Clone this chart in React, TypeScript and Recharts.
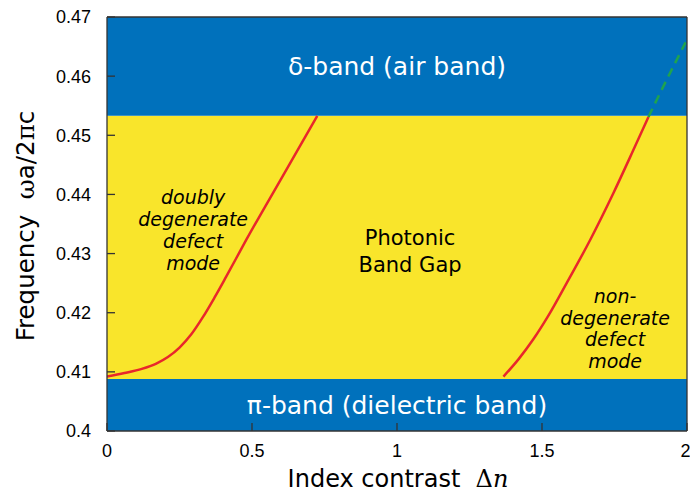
import {
  ComposedChart,
  Line,
  XAxis,
  YAxis,
  ReferenceArea,
  ReferenceDot,
  Label,
} from "recharts";

// band edges (normalized frequency)
const lowerBandTop = 0.4088;
const upperBandBottom = 0.4533;

// doubly degenerate defect mode
const mode1X = [0, 0.06, 0.12, 0.17, 0.21, 0.25, 0.29, 0.33, 0.37, 0.41, 0.48, 0.6, 0.725];
const mode1Y = [0.4092, 0.4098, 0.4105, 0.4114, 0.4125, 0.4141, 0.4163, 0.4192, 0.4225, 0.426, 0.4323, 0.4426, 0.4533];

// non-degenerate defect mode
const mode2X = [1.367, 1.42, 1.47, 1.522, 1.585, 1.666, 1.746, 1.815, 1.867];
const mode2Y = [0.4092, 0.4122, 0.4155, 0.4195, 0.425, 0.4323, 0.4402, 0.4475, 0.4531];

// continuation inside the air band
const extX = [1.867, 1.93, 1.995];
const extY = [0.4531, 0.4594, 0.4657];

const xTicks = [0, 0.5, 1, 1.5, 2];
const yTicks = [0.4, 0.41, 0.42, 0.43, 0.44, 0.45, 0.46, 0.47];

const toPoints = (xs: number[], ys: number[]) => xs.map((x, i) => ({ x, y: ys[i] }));

const BLUE = "#0071bc";
const YELLOW = "#f9e52b";
const RED = "#e8272b";
const GREEN = "#1fa34e";
const FRAME = "#333";
const SANS = "'DejaVu Sans', sans-serif";
const TICK_FONT = "'Liberation Sans', Arial, sans-serif";

function MultiLine({ cx, cy, lines, size, italic, gap }: any) {
  return (
    <text
      x={cx}
      y={cy}
      textAnchor="middle"
      fontFamily={SANS}
      fontSize={size}
      fontStyle={italic ? "italic" : "normal"}
      fill="#000"
    >
      {lines.map((l: string, i: number) => (
        <tspan key={i} x={cx} dy={i === 0 ? 0 : gap}>
          {l}
        </tspan>
      ))}
    </text>
  );
}

export default function App() {
  const m1 = toPoints(mode1X, mode1Y);
  const m2 = toPoints(mode2X, mode2Y);
  const ext = toPoints(extX, extY);

  return (
    <div style={{ position: "absolute", left: 0, top: 0, background: "#fff" }}>
      <ComposedChart width={690} height={494} margin={{ top: 0, right: 0, bottom: 0, left: 0 }}>
        <XAxis
          xAxisId={0}
          type="number"
          dataKey="x"
          domain={[0, 2]}
          ticks={xTicks}
          allowDataOverflow
          height={63}
          tickSize={-8}
          tickMargin={21}
          stroke={FRAME}
          strokeWidth={1.3}
          tick={{ fill: "#000", fontSize: 18, fontFamily: TICK_FONT }}
          label={{
            content: ({ viewBox }: any) => (
              <text
                x={viewBox.x + viewBox.width / 2 + 1}
                y={viewBox.y + 56}
                textAnchor="middle"
                fontFamily={SANS}
                fontSize={24}
                fill="#000"
              >
                Index contrast{"\u00a0\u00a0"}
                <tspan fontFamily="'DejaVu Serif', serif">Δ</tspan>
                <tspan fontFamily="'DejaVu Serif', serif" fontStyle="italic">n</tspan>
              </text>
            ),
          }}
        />
        <XAxis
          xAxisId="top"
          orientation="top"
          type="number"
          dataKey="x"
          domain={[0, 2]}
          ticks={[0.5, 1, 1.5]}
          height={17}
          tickSize={-8}
          stroke={FRAME}
          strokeWidth={1.3}
          tickFormatter={() => ""}
        />
        <YAxis
          yAxisId={0}
          type="number"
          domain={[0.4, 0.47]}
          ticks={yTicks}
          allowDataOverflow
          width={107}
          tickSize={-8}
          tickMargin={24}
          stroke={FRAME}
          strokeWidth={1.3}
          tick={{ fill: "#000", fontSize: 18, fontFamily: TICK_FONT }}
          label={{
            content: ({ viewBox }: any) => (
              <text
                transform={`translate(${viewBox.x + 34}, ${viewBox.y + viewBox.height / 2 + 2}) rotate(-90)`}
                textAnchor="middle"
                fontFamily={SANS}
                fontSize={24.5}
                fill="#000"
              >
                Frequency{"\u00a0\u00a0"}
                <tspan fontFamily="'DejaVu Serif', serif">ω</tspan>a/2
                <tspan fontFamily="'DejaVu Serif', serif">π</tspan>c
              </text>
            ),
          }}
        />
        <YAxis
          yAxisId="right"
          orientation="right"
          type="number"
          domain={[0.4, 0.47]}
          ticks={[0.41, 0.42, 0.43, 0.44, 0.45, 0.46]}
          width={3}
          tickSize={-8}
          stroke={FRAME}
          strokeWidth={1.3}
          tickFormatter={() => ""}
        />

        <ReferenceArea y1={0.4} y2={lowerBandTop} fill={BLUE} fillOpacity={1} stroke="none">
          <Label
            value="π-band (dielectric band)"
            position="center"
            fill="#fff"
            fontSize={25}
            fontFamily={SANS}
          />
        </ReferenceArea>
        <ReferenceArea y1={lowerBandTop} y2={upperBandBottom} fill={YELLOW} fillOpacity={1} stroke="none" />
        <ReferenceArea y1={upperBandBottom} y2={0.47} fill={BLUE} fillOpacity={1} stroke="none">
          <Label
            value="δ-band (air band)"
            position="center"
            fill="#fff"
            fontSize={25}
            fontFamily={SANS}
          />
        </ReferenceArea>

        <ReferenceDot
          x={0.297}
          y={0.4384}
          r={0}
          shape={(p: any) => (
            <MultiLine {...p} lines={["doubly", "degenerate", "defect", "mode"]} size={19} italic gap={22} />
          )}
        />
        <ReferenceDot
          x={1.045}
          y={0.43145}
          r={0}
          shape={(p: any) => <MultiLine {...p} lines={["Photonic", "Band Gap"]} size={21} gap={27} />}
        />
        <ReferenceDot
          x={1.752}
          y={0.42164}
          r={0}
          shape={(p: any) => (
            <MultiLine {...p} lines={["non-", "degenerate", "defect", "mode"]} size={19} italic gap={21.7} />
          )}
        />

        <Line
          data={m1}
          dataKey="y"
          type="monotone"
          stroke={RED}
          strokeWidth={2.5}
          dot={false}
          isAnimationActive={false}
        />
        <Line
          data={m2}
          dataKey="y"
          type="monotone"
          stroke={RED}
          strokeWidth={2.5}
          dot={false}
          isAnimationActive={false}
        />
        <Line
          data={ext}
          dataKey="y"
          type="monotone"
          stroke={GREEN}
          strokeWidth={2.5}
          strokeDasharray="9 6"
          dot={false}
          isAnimationActive={false}
        />
      </ComposedChart>
    </div>
  );
}
